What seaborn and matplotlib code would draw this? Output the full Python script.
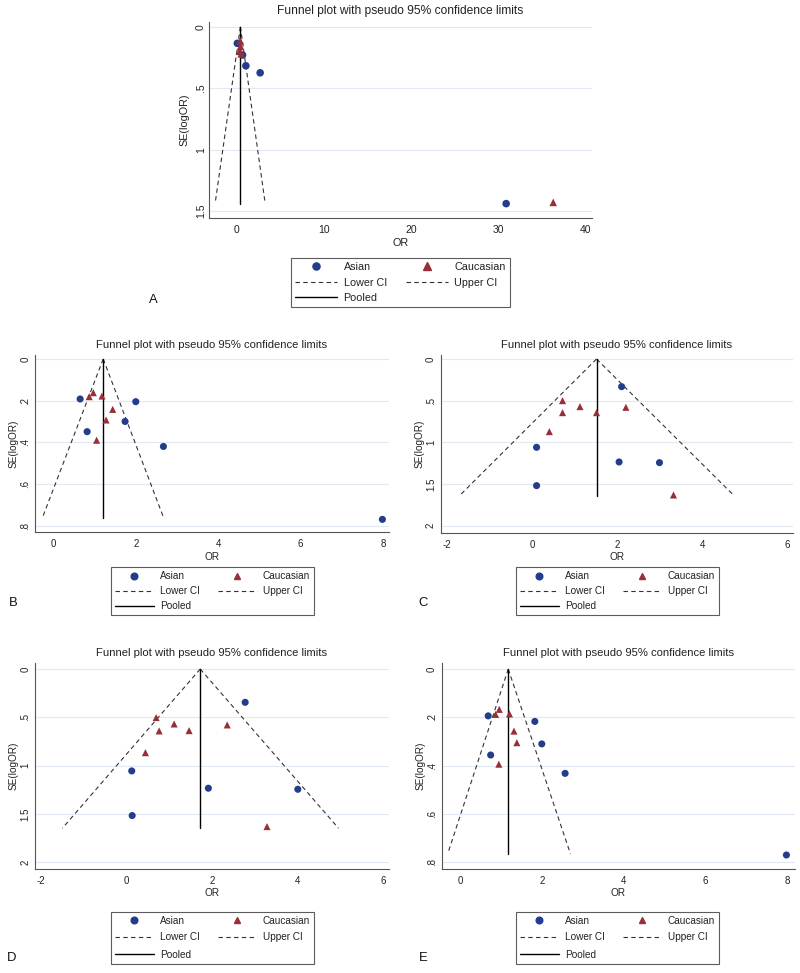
import matplotlib
matplotlib.use("Agg")
import numpy as np
import pandas as pd
import seaborn as sns
import matplotlib.pyplot as plt
from matplotlib.lines import Line2D
from matplotlib.ticker import FuncFormatter

# ---- data (OR, SE(logOR)) ----
A_asian_or = [30.9, 2.67, 1.03, 0.65, 0.05]
A_asian_se = [1.44, 0.375, 0.318, 0.23, 0.135]
A_cauc_or = [36.3, 0.38, 0.30, 0.50, 0.42]
A_cauc_se = [1.43, 0.115, 0.20, 0.22, 0.16]
A_pooled, A_lo, A_hi, A_semax = 0.40, -2.5, 3.25, 1.44

B_asian_or = [0.65, 0.82, 2.0, 1.74, 2.67, 7.98]
B_asian_se = [0.192, 0.349, 0.205, 0.30, 0.42, 0.77]
B_cauc_or = [0.87, 0.97, 1.18, 1.44, 1.28, 1.05]
B_cauc_se = [0.181, 0.162, 0.178, 0.242, 0.293, 0.39]
B_pooled, B_lo, B_hi, B_semax = 1.21, -0.27, 2.68, 0.765

C_asian_or = [2.10, 0.10, 0.10, 2.04, 2.99]
C_asian_se = [0.332, 1.06, 1.52, 1.236, 1.244]
C_cauc_or = [0.71, 1.12, 0.71, 1.51, 2.2, 0.40, 3.32]
C_cauc_se = [0.50, 0.572, 0.644, 0.644, 0.58, 0.872, 1.632]
C_pooled, C_lo, C_hi, C_semax = 1.51, -1.72, 4.75, 1.644

D_asian_or = [2.77, 0.12, 0.13, 1.91, 4.0]
D_asian_se = [0.345, 1.055, 1.517, 1.234, 1.245]
D_cauc_or = [0.69, 1.11, 0.76, 1.46, 2.35, 0.44, 3.28]
D_cauc_se = [0.503, 0.569, 0.641, 0.638, 0.579, 0.866, 1.631]
D_pooled, D_lo, D_hi, D_semax = 1.72, -1.50, 4.95, 1.648

E_asian_or = [0.69, 0.75, 1.83, 2.0, 2.57, 7.98]
E_asian_se = [0.194, 0.356, 0.217, 0.31, 0.432, 0.77]
E_cauc_or = [0.87, 0.96, 1.21, 1.32, 1.39, 0.95]
E_cauc_se = [0.188, 0.167, 0.186, 0.257, 0.305, 0.394]
E_pooled, E_lo, E_hi, E_semax = 1.18, -0.30, 2.70, 0.765

groups = ["Asian", "Caucasian"]
legend_labels = ["Asian", "Lower CI", "Pooled", "Caucasian", "Upper CI"]
title = "Funnel plot with pseudo 95% confidence limits"

BLUE = "#233d8c"
RED = "#972f3a"
LINE = "#333333"
GRID = "#e1e9f2"

sns.set_style("white")
plt.rcParams["font.family"] = ["Liberation Sans", "DejaVu Sans"]

W, H = 800, 973
fig = plt.figure(figsize=(W / 100, H / 100), dpi=100)


def fx(px):
    return px / W


def fy(py):
    return 1 - py / H


def stata_fmt(v, pos):
    s = "%g" % round(v, 6)
    if s.startswith("0."):
        s = s[1:]
    elif s.startswith("-0."):
        s = "-" + s[2:]
    return s


def draw_panel(p):
    l, r, t, b = p["box"]
    ax = fig.add_axes([fx(l), fy(b), fx(r - l), (b - t) / H])
    k = p["scale"]

    df = pd.concat([
        pd.DataFrame({"OR": p["asian"][0], "SE": p["asian"][1], "group": "Asian"}),
        pd.DataFrame({"OR": p["cauc"][0], "SE": p["cauc"][1], "group": "Caucasian"}),
    ])

    pooled, lo, hi, semax = p["funnel"]
    ax.plot([pooled, lo], [0, semax], color=LINE, lw=0.8, ls=(0, (4, 3)), zorder=2)
    ax.plot([pooled, hi], [0, semax], color=LINE, lw=0.8, ls=(0, (4, 3)), zorder=2)
    ax.plot([pooled, pooled], [0, semax], color="black", lw=1.0, zorder=2)

    sns.scatterplot(data=df, x="OR", y="SE", hue="group", style="group",
                    hue_order=groups, style_order=groups,
                    palette={"Asian": BLUE, "Caucasian": RED},
                    markers={"Asian": "o", "Caucasian": "^"},
                    s=p["ms"], linewidth=0, legend=False, ax=ax, zorder=3)

    ax.set_xlim(*p["xlim"])
    ax.set_ylim(*p["ylim"])
    ax.set_xticks(p["xticks"])
    ax.set_yticks(p["yticks"])
    ax.xaxis.set_major_formatter(FuncFormatter(stata_fmt))
    ax.yaxis.set_major_formatter(FuncFormatter(stata_fmt))
    ax.set_xlabel("")
    ax.set_ylabel("")
    ax.grid(axis="y", color=GRID, lw=0.8)
    ax.set_axisbelow(True)
    for side in ["top", "right"]:
        ax.spines[side].set_visible(False)
    for side in ["left", "bottom"]:
        ax.spines[side].set_color("#555555")
        ax.spines[side].set_linewidth(0.8)
    ax.tick_params(direction="out", length=3.6, width=0.8, color="#555555",
                   labelsize=7.0 * k, pad=1.5, labelcolor="#222222")
    ax.tick_params(axis="y", labelrotation=90, pad=p["ypad"])
    for lab in ax.get_yticklabels():
        lab.set_va("center")

    cx = (l + r) / 2
    fig.text(fx(cx), fy(t - 10.5), title, ha="center", va="center",
             fontsize=8.1 * k, color="#222222")
    fig.text(fx(cx), fy(b + 24.5), "OR", ha="center", va="center",
             fontsize=7.2 * k, color="#222222")
    fig.text(fx(l - p["ylab_off"]), fy((t + b) / 2), "SE(logOR)", ha="center",
             va="center", rotation=90, fontsize=7.2 * k, color="#222222")

    handles = [
        Line2D([], [], ls="none", marker="o", color=BLUE, markersize=4.8 * k),
        Line2D([], [], ls=(0, (4, 3)), color=LINE, lw=0.8),
        Line2D([], [], ls="-", color="black", lw=1.0),
        Line2D([], [], ls="none", marker="^", color=RED, markersize=4.8 * k),
        Line2D([], [], ls=(0, (4, 3)), color=LINE, lw=0.8),
    ]
    lcx, lcy = p["leg"]
    leg = fig.legend(handles=handles, labels=legend_labels, ncol=2, loc="center",
                     bbox_to_anchor=(fx(lcx), fy(lcy)), frameon=True, fancybox=False,
                     edgecolor="#333333", fontsize=7.2 * k, handlelength=3.9,
                     handletextpad=0.6, columnspacing=1.8,
                     labelspacing=p["lspace"], borderpad=0.4)
    leg.get_frame().set_linewidth(0.8)
    for txt in leg.get_texts():
        txt.set_color("#222222")

    lx, ly = p["letter"]
    fig.text(fx(lx), fy(ly), p["name"], ha="center", va="center",
             fontsize=9.4, color="#111111")


panels = [
    dict(name="A", box=(209, 592, 21.7, 218), scale=1.07, ms=30, ypad=-1.3, ylab_off=25,
         asian=(A_asian_or, A_asian_se), cauc=(A_cauc_or, A_cauc_se),
         funnel=(A_pooled, A_lo, A_hi, A_semax),
         xlim=(-3.2, 40.75), ylim=(1.557, -0.041),
         xticks=[0, 10, 20, 30, 40], yticks=[0, 0.5, 1, 1.5],
         leg=(400.5, 282.5), lspace=0.5, letter=(153, 300)),
    dict(name="B", box=(35, 389, 355, 532.3), scale=1.0, ms=26, ypad=-0.2, ylab_off=21,
         asian=(B_asian_or, B_asian_se), cauc=(B_cauc_or, B_cauc_se),
         funnel=(B_pooled, B_lo, B_hi, B_semax),
         xlim=(-0.444, 8.14), ylim=(0.832, -0.019),
         xticks=[0, 2, 4, 6, 8], yticks=[0, 0.2, 0.4, 0.6, 0.8],
         leg=(212.3, 591), lspace=0.5, letter=(12.7, 603)),
    dict(name="C", box=(440.7, 793, 355, 532.7), scale=1.0, ms=26, ypad=-0.2, ylab_off=21,
         asian=(C_asian_or, C_asian_se), cauc=(C_cauc_or, C_cauc_se),
         funnel=(C_pooled, C_lo, C_hi, C_semax),
         xlim=(-2.155, 6.13), ylim=(2.085, -0.048),
         xticks=[-2, 0, 2, 4, 6], yticks=[0, 0.5, 1, 1.5, 2],
         leg=(617.5, 591), lspace=0.5, letter=(423, 603)),
    dict(name="D", box=(35, 389, 663, 869), scale=1.0, ms=26, ypad=-0.2, ylab_off=21,
         asian=(D_asian_or, D_asian_se), cauc=(D_cauc_or, D_cauc_se),
         funnel=(D_pooled, D_lo, D_hi, D_semax),
         xlim=(-2.14, 6.13), ylim=(2.07, -0.062),
         xticks=[-2, 0, 2, 4, 6], yticks=[0, 0.5, 1, 1.5, 2],
         leg=(212.3, 937.5), lspace=0.7, letter=(12, 958)),
    dict(name="E", box=(441.7, 795, 663, 869), scale=1.0, ms=26, ypad=-0.2, ylab_off=21,
         asian=(E_asian_or, E_asian_se), cauc=(E_cauc_or, E_cauc_se),
         funnel=(E_pooled, E_lo, E_hi, E_semax),
         xlim=(-0.447, 8.19), ylim=(0.828, -0.025),
         xticks=[0, 2, 4, 6, 8], yticks=[0, 0.2, 0.4, 0.6, 0.8],
         leg=(617.5, 937.5), lspace=0.7, letter=(423, 958)),
]

for p in panels:
    draw_panel(p)

fig.savefig("out.png", dpi=100, facecolor="white")
